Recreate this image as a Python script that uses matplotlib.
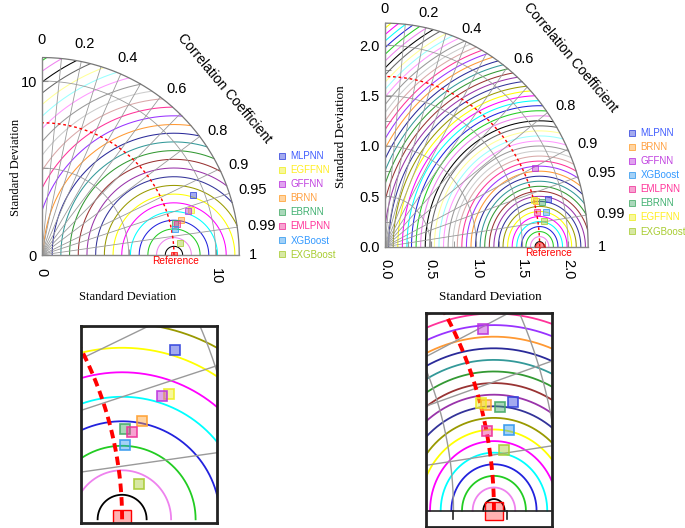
import numpy as np
import matplotlib
matplotlib.use("Agg")
import matplotlib.pyplot as plt
from matplotlib.colors import to_rgba

plt.rcParams['font.family'] = ['Liberation Sans', 'DejaVu Sans']

# left panel (std, correlation) per model, legend order
left_models = ['MLPNN', 'EGFFNN', 'GFFNN', 'BRNN', 'EBRNN', 'EMLPNN', 'XGBoost', 'EXGBoost']
left_std = [9.35, 8.94, 8.79, 8.25, 7.87, 8.00, 7.80, 7.98]
left_corr = [0.929, 0.958, 0.958, 0.970, 0.972, 0.975, 0.981, 0.996]
left_ref = 7.6

# right panel
right_models = ['MLPNN', 'BRNN', 'GFFNN', 'XGBoost', 'EMLPNN', 'EBRNN', 'EGFFNN', 'EXGBoost']
right_std = [1.841, 1.716, 1.816, 1.794, 1.692, 1.777, 1.694, 1.757]
right_corr = [0.967, 0.964, 0.902, 0.981, 0.979, 0.968, 0.962, 0.989]
right_ref = 1.69

corr_labels = [0, 0.2, 0.4, 0.6, 0.8, 0.9, 0.95, 0.99, 1]
corr_lines = [0.1, 0.2, 0.3, 0.4, 0.5, 0.6, 0.7, 0.8, 0.9, 0.95, 0.99]

marker_colors = {'MLPNN': '#3344dd', 'EGFFNN': '#eeee22', 'GFFNN': '#bb33dd',
                 'BRNN': '#ffa030', 'EBRNN': '#44aa66', 'EMLPNN': '#ee3399',
                 'XGBoost': '#3399ee', 'EXGBoost': '#a8cc33'}
text_colors = {'MLPNN': '#3d5afe', 'EGFFNN': '#ffee22', 'GFFNN': '#c040e0',
               'BRNN': '#ffa040', 'EBRNN': '#40b070', 'EMLPNN': '#ff3399',
               'XGBoost': '#3399ff', 'EXGBoost': '#a8cc30'}

rms_colors = ['black', 'violet', '#22cc22', '#2222dd', 'cyan', 'magenta', 'yellow',
              '#999900', '#333399', '#9933aa', '#993333', '#339933', '#339999',
              '#2a2a99', '#ff9933', '#9933ff', '#ff3399', '#d9a8a8', '#cccccc',
              '#999999', '#ff99ff', '#99ffff', '#ffff99', '#666666']

GRID = '#9a9a9a'


def to_xy(std, corr):
    std = np.asarray(std)
    corr = np.asarray(corr)
    return std * corr, std * np.sqrt(1 - corr ** 2)


def draw_rms(ax, ref, step, smax, lw):
    t = np.linspace(0, np.pi, 2000)
    n = int(np.ceil(np.hypot(ref, smax) / step))
    for k in range(1, n + 1):
        r = k * step
        x = ref + r * np.cos(t)
        y = r * np.sin(t)
        bad = (x < 0) | (np.hypot(x, y) > smax)
        x[bad] = np.nan
        y[bad] = np.nan
        ax.plot(x, y, color=rms_colors[(k - 1) % len(rms_colors)], lw=lw)


def draw_grid(ax, ref, smax, std_arcs, lw, ref_lw, ref_dash):
    t = np.linspace(0, np.pi / 2, 400)
    for c in corr_lines:
        a = np.arccos(c)
        ax.plot([0, smax * np.cos(a)], [0, smax * np.sin(a)], color=GRID, lw=lw)
    for s in std_arcs:
        ax.plot(s * np.cos(t), s * np.sin(t), color=GRID, lw=lw)
    ax.plot(ref * np.cos(t), ref * np.sin(t), color='red', lw=ref_lw,
            ls=(0, ref_dash))


def draw_points(ax, models, std, corr, ms, mew):
    x, y = to_xy(std, corr)
    for m, xi, yi in zip(models, x, y):
        c = marker_colors[m]
        ax.plot(xi, yi, marker='s', ls='', ms=ms, mfc=to_rgba(c, 0.45),
                mec=to_rgba(c, 0.9), mew=mew, label=m)


def taylor(ax, models, std, corr, ref, smax, step, std_arcs, lim,
           major, minor, fmt, ref_marker, ref_ms, lab_r, ref_dx):
    draw_rms(ax, ref, step, smax, 0.75)
    draw_grid(ax, ref, smax, std_arcs, 0.6, 1.0, (2, 2))
    t = np.linspace(0, np.pi / 2, 400)
    ax.plot(smax * np.cos(t), smax * np.sin(t), color='#777777', lw=0.9)
    ax.plot([0, smax], [0, 0], color='#888888', lw=1.0, clip_on=False)
    ax.plot([0, 0], [0, smax], color='#888888', lw=1.0, clip_on=False)
    draw_points(ax, models, std, corr, 3.8, 0.6)
    ax.plot(ref, 0, marker=ref_marker, ls='', ms=ref_ms,
            mfc=to_rgba('red', 0.45), mec=to_rgba('red', 0.8), mew=0.6)
    ax.text(ref + ref_dx, -0.006 * smax, 'Reference', color='red',
            fontsize=7.3, ha='center', va='top')

    for c in corr_labels:
        a = np.arccos(c)
        if c < 0.5:
            r = lab_r * smax
            ax.text(r * np.cos(a), r * np.sin(a), str(c), fontsize=10.5,
                    ha='center', va='center')
        else:
            r = 1.05 * smax
            ax.text(r * np.cos(a), r * np.sin(a), str(c), fontsize=10.5,
                    ha='left', va='center')

    ax.set_xlim(0, lim)
    ax.set_ylim(0, lim)
    for s in ax.spines.values():
        s.set_visible(False)
    ax.set_xticks(major)
    ax.set_yticks(major)
    ax.set_xticks(minor, minor=True)
    ax.set_yticks(minor, minor=True)
    ax.set_xticklabels([fmt(v) for v in major])
    ax.set_yticklabels([fmt(v) for v in major])
    ax.tick_params(which='both', direction='in', color='#888888', length=4,
                   labelsize=10.5)
    ax.tick_params(axis='x', labelrotation=270, pad=9)


def inset(ax, models, std, corr, ref, smax, step, std_arcs, xlim, ylim):
    draw_rms(ax, ref, step, smax, 1.3)
    draw_grid(ax, ref, smax, std_arcs, 1.0, 2.8, (2.2, 1.3))
    draw_points(ax, models, std, corr, 6.5, 1.2)
    ax.plot(ref, 0, marker='s', ls='', ms=13, mfc=to_rgba('red', 0.3),
            mec='red', mew=1.0)
    ax.set_xlim(*xlim)
    ax.set_ylim(*ylim)
    ax.set_xticks([])
    ax.set_yticks([])
    for s in ax.spines.values():
        s.set_linewidth(2)
        s.set_color('#222222')


fig = plt.figure(figsize=(6.85, 5.28), dpi=100)

# left Taylor diagram
ax1 = fig.add_axes([0.0609, 0.5170, 0.2947, 0.3823])
taylor(ax1, left_models, left_std, left_corr, left_ref, 11.35, 0.5, [5, 10], 11.6,
       [0, 10], [5], lambda v: '%d' % v, 's', 4, 1.09, 0.1)

# right Taylor diagram
ax2 = fig.add_axes([0.5620, 0.5328, 0.3073, 0.4386])
taylor(ax2, right_models, right_std, right_corr, right_ref, 2.22, 0.05,
       [0.5, 1.0, 1.5, 2.0], 2.3, [0, 0.5, 1.0, 1.5, 2.0],
       [0.25, 0.75, 1.25, 1.75], lambda v: '%.1f' % v, 'o', 7, 1.065, 0.1)

serif = ['Liberation Serif', 'DejaVu Serif']
fig.text(16 / 685, 1 - 167 / 528, 'Standard Deviation', rotation=90, fontsize=9,
         family=serif, ha='center', va='center')
fig.text(128 / 685, 1 - 297 / 528, 'Standard Deviation', fontsize=9,
         family=serif, ha='center', va='center')
fig.text(341 / 685, 1 - 137 / 528, 'Standard Deviation', rotation=90, fontsize=9.5,
         family=serif, ha='center', va='center')
fig.text(490 / 685, 1 - 297 / 528, 'Standard Deviation', fontsize=9.5,
         family=serif, ha='center', va='center')
fig.text(224 / 685, 1 - 88 / 528, 'Correlation Coefficient', rotation=-50,
         fontsize=10, ha='center', va='center')
fig.text(570 / 685, 1 - 57 / 528, 'Correlation Coefficient', rotation=-50,
         fontsize=10, ha='center', va='center')

for ax, models, anchor in [(ax1, left_models, (279 / 685, 1 - 151 / 528)),
                           (ax2, right_models, (629 / 685, 1 - 128 / 528))]:
    handles, labels = ax.get_legend_handles_labels()
    ax.legend(handles, labels, loc='upper left', bbox_to_anchor=anchor,
              bbox_transform=fig.transFigure, frameon=False, fontsize=7,
              handlelength=0.7, handletextpad=0.5, borderpad=0, borderaxespad=0,
              labelspacing=0.42, labelcolor=[text_colors[m] for m in models])

# zoomed insets
ax3 = fig.add_axes([0.1182, 0.0100, 0.1981, 0.3731])
inset(ax3, left_models, left_std, left_corr, left_ref, 11.35, 0.5, [5, 10],
      (6.76, 9.53), (-0.07, 3.95))

ax4 = fig.add_axes([0.6219, 0.0025, 0.1835, 0.4042])
inset(ax4, right_models, right_std, right_corr, right_ref, 2.22, 0.05,
      [0.5, 1.0, 1.5, 2.0], (1.371, 1.961), (-0.069, 0.851))
ax4.axhline(0, color='#222222', lw=1.2)
for v in [1.5, 1.75]:
    ax4.plot([v, v], [0, -0.035], color='#222222', lw=1.2)

fig.savefig('out.png', dpi=100)
